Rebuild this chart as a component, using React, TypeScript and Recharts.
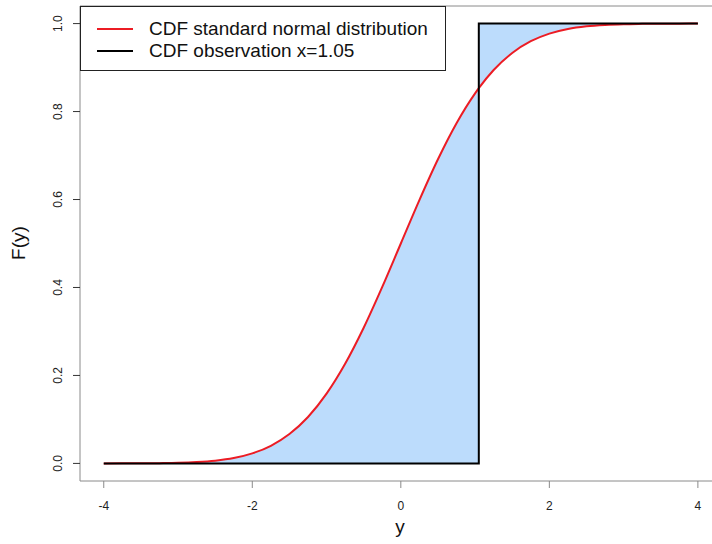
import {
  Area,
  ComposedChart,
  Label,
  Line,
  ReferenceLine,
  XAxis,
  YAxis,
} from "recharts";

// y grid and F(y)
const yValues = [
  -4, -3.75, -3.5, -3.25, -3, -2.75, -2.5, -2.25, -2, -1.75, -1.5, -1.25, -1,
  -0.75, -0.5, -0.25, 0, 0.25, 0.5, 0.75, 1, 1.05, 1.25, 1.5, 1.75, 2, 2.25,
  2.5, 2.75, 3, 3.25, 3.5, 3.75, 4,
];
const cdfValues = [
  0, 0.0001, 0.0002, 0.0006, 0.0013, 0.003, 0.0062, 0.0122, 0.0228, 0.0401,
  0.0668, 0.1056, 0.1587, 0.2266, 0.3085, 0.4013, 0.5, 0.5987, 0.6915, 0.7734,
  0.8413, 0.8531, 0.8944, 0.9332, 0.9599, 0.9772, 0.9878, 0.9938, 0.997,
  0.9987, 0.9994, 0.9998, 0.9999, 1,
];

const observation = 1.05;
const stepX = [-4, observation, observation, 4];
const stepF = [0, 0, 1, 1];

const xTicks = [-4, -2, 0, 2, 4];
const yTicks = [0, 0.2, 0.4, 0.6, 0.8, 1];

const FONT = '"Liberation Sans", Arial, sans-serif';
const AXIS_GREY = "#8a8a8a";
const RED = "#ec1c24";
const FILL = "#bcdcfc";

const curve = yValues.map((y, i) => ({ y, F: cdfValues[i] }));
const stepRows = stepX.map((y, i) => ({ y, F: stepF[i] }));
const leftBand = curve
  .filter((r) => r.y <= observation)
  .map((r) => ({ y: r.y, band: [0, r.F] }));
const rightBand = curve
  .filter((r) => r.y >= observation)
  .map((r) => ({ y: r.y, band: [r.F, 1] }));

function XTick({ x, y, payload }: any) {
  return (
    <text
      x={x}
      y={y + 11}
      dy="0.71em"
      textAnchor="middle"
      fontSize={12}
      fontFamily={FONT}
      fill="#222"
    >
      {payload.value}
    </text>
  );
}

function YTick({ y, payload }: any) {
  const bx = 62;
  return (
    <text
      x={bx}
      y={y}
      transform={`rotate(-90, ${bx}, ${y})`}
      textAnchor="middle"
      fontSize={12}
      fontFamily={FONT}
      fill="#222"
    >
      {Number(payload.value).toFixed(1)}
    </text>
  );
}

function YTitle() {
  const bx = 25;
  const cy = 243;
  return (
    <text
      x={bx}
      y={cy}
      transform={`rotate(-90, ${bx}, ${cy})`}
      textAnchor="middle"
      fontSize={19}
      fontFamily={FONT}
      fill="#111"
    >
      F(y)
    </text>
  );
}

function LegendBox() {
  const items = [
    { label: "CDF standard normal distribution", color: RED },
    { label: "CDF observation x=1.05", color: "#000" },
  ];
  return (
    <div
      style={{
        position: "absolute",
        left: 80,
        top: 6,
        width: 366,
        height: 65,
        boxSizing: "border-box",
        border: "1px solid #222",
        background: "#fff",
        fontFamily: FONT,
        fontSize: 19,
        color: "#111",
      }}
    >
      {items.map((item, i) => (
        <div
          key={item.label}
          style={{
            position: "absolute",
            left: 0,
            top: 11 + i * 22,
            height: 22,
            display: "flex",
            alignItems: "center",
          }}
        >
          <span
            style={{
              display: "inline-block",
              marginLeft: 16,
              width: 36,
              height: 2,
              background: item.color,
            }}
          />
          <span style={{ marginLeft: 16, whiteSpace: "nowrap" }}>
            {item.label}
          </span>
        </div>
      ))}
    </div>
  );
}

export default function App() {
  return (
    <div
      style={{
        position: "absolute",
        left: 0,
        top: 0,
        width: 712,
        height: 544,
        background: "#fff",
      }}
    >
      <ComposedChart
        width={712}
        height={544}
        margin={{ top: 6, right: 0, bottom: 0, left: 0 }}
      >
        <XAxis
          dataKey="y"
          type="number"
          domain={[-4.32, 4.19]}
          ticks={xTicks}
          allowDataOverflow
          height={63}
          tickSize={7}
          stroke={AXIS_GREY}
          tickLine={{ stroke: AXIS_GREY }}
          tick={<XTick />}
        >
          <Label
            value="y"
            position="insideBottom"
            offset={11}
            dx={4}
            fontSize={19}
            fontFamily={FONT}
            fill="#111"
          />
        </XAxis>
        <YAxis
          type="number"
          domain={[-0.04, 1.04]}
          ticks={yTicks}
          allowDataOverflow
          width={80}
          tickSize={7}
          stroke={AXIS_GREY}
          tickLine={{ stroke: "#333" }}
          tick={<YTick />}
          label={<YTitle />}
        />
        <ReferenceLine y={1.04} stroke={AXIS_GREY} strokeWidth={1} />
        <Area
          data={leftBand}
          dataKey="band"
          type="monotone"
          stroke="none"
          fill={FILL}
          fillOpacity={1}
          isAnimationActive={false}
        />
        <Area
          data={rightBand}
          dataKey="band"
          type="monotone"
          stroke="none"
          fill={FILL}
          fillOpacity={1}
          isAnimationActive={false}
        />
        <Line
          data={curve}
          dataKey="F"
          type="monotone"
          stroke={RED}
          strokeWidth={2}
          dot={false}
          isAnimationActive={false}
        />
        <Line
          data={stepRows}
          dataKey="F"
          type="linear"
          stroke="#000"
          strokeWidth={2}
          dot={false}
          isAnimationActive={false}
        />
      </ComposedChart>
      <LegendBox />
    </div>
  );
}
